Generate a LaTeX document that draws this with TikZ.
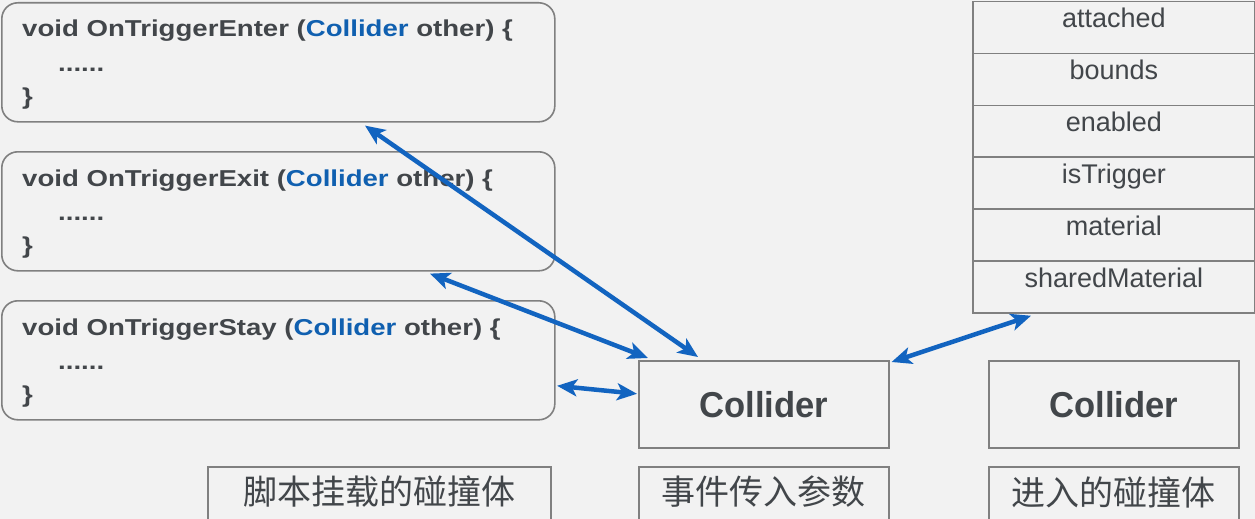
\documentclass[tikz,border=0pt]{standalone}
\usepackage{fontspec}
\setmainfont{Liberation Sans}
\newfontfamily\codefont[FakeStretch=1.2]{Liberation Sans}
\newfontfamily\bigfont[FakeStretch=0.96]{Liberation Sans}
\newfontfamily\cjkfont{Noto Sans CJK SC}
\usetikzlibrary{arrows.meta,calc}
\definecolor{bgc}{RGB}{242,242,242}
\definecolor{txt}{RGB}{66,70,74}
\definecolor{bluet}{RGB}{16,96,176}
\definecolor{arrowc}{RGB}{18,100,192}
\definecolor{edgec}{RGB}{128,128,128}
\begin{document}
\begin{tikzpicture}[x=1pt,y=-1pt,
  codebox/.style={draw=edgec,line width=1.6pt,rounded corners=16pt,minimum width=553pt,minimum height=119pt,inner sep=0pt,anchor=north west},
  codeline/.style={anchor=base west,inner sep=0pt,font=\codefont\bfseries\fontsize{23}{27}\selectfont,text=txt},
  colbox/.style={draw=edgec,line width=1.6pt,minimum width=250pt,minimum height=87pt,inner sep=0pt,anchor=north west,font=\bigfont\bfseries\fontsize{36}{40}\selectfont,text=txt},
  labbox/.style={draw=edgec,line width=1.6pt,minimum height=58pt,inner sep=0pt,anchor=north west},
  labtext/.style={inner sep=0pt,font=\cjkfont\fontsize{34}{38}\selectfont,text=txt},
  rowbox/.style={draw=edgec,line width=1.6pt,minimum width=282pt,minimum height=51.9pt,inner sep=0pt,anchor=north west},
  rowtext/.style={anchor=base,inner sep=0pt,font=\fontsize{27}{30}\selectfont,text=txt},
  arr/.style={draw=arrowc,line width=4.5pt,{Stealth[length=20pt,width=17pt,inset=5pt]}-{Stealth[length=20pt,width=17pt,inset=5pt]}}
]
\useasboundingbox (0,0) rectangle (1255,519);
\fill[bgc] (0,0) rectangle (1255,519);

% code boxes
\node[codebox] (b1) at (1,2) {};
\node[codebox] (b2) at (1,151) {};
\node[codebox] (b3) at (1,300) {};
\foreach \b/\n in {b1/Enter,b2/Exit,b3/Stay}{
  \node[codeline] (\b l1) at ($(\b.north west)+(21,35)$) {void OnTrigger\n\ (\textcolor{bluet}{Collider} other) \{};
  \node[codeline] (\b l2) at ($(\b.north west)+(57,69)$) {......};
  \node[codeline] (\b l3) at ($(\b.north west)+(21,102)$) {\}};
}

% collider boxes
\node[colbox] (c1) at (638,360) {Collider};
\node[colbox] (c2) at (988,360) {Collider};

% label boxes
\node[labbox,minimum width=343pt] (l1) at (207,466) {};
\node[labbox,minimum width=250pt] (l2) at (638,466) {};
\node[labbox,minimum width=250pt] (l3) at (988,466) {};
\node[labtext] (t1) at ($(l1.north)+(0,26)$) {脚本挂载的碰撞体};
\node[labtext] (t2) at ($(l2.north)+(0,26)$) {事件传入参数};
\node[labtext] (t3) at ($(l3.north)+(0,26)$) {进入的碰撞体};

% property table
\foreach \t [count=\i] in {attached,bounds,enabled,isTrigger,material,sharedMaterial}{
  \node[rowbox] (r\i) at (972,{0.75+(\i-1)*51.9}) {};
  \node[rowtext] (p\i) at (r\i.center) {\t};
}

% arrows
\draw[arr] ([xshift=60pt,yshift=3pt]c1.north west) -- ([xshift=364pt,yshift=-3pt]b1.south west);
\draw[arr] ([xshift=10pt,yshift=2pt]c1.north west) -- ([xshift=429pt,yshift=-2pt]b2.south west);
\draw[arr] ([xshift=-1pt,yshift=10.5pt]c1.west) -- ([xshift=1.5pt,yshift=-25.5pt]b3.east);
\draw[arr] ([xshift=2pt,yshift=-2pt]c1.north east) -- ([xshift=59pt,yshift=-2pt]r6.south west);
\end{tikzpicture}
\end{document}
